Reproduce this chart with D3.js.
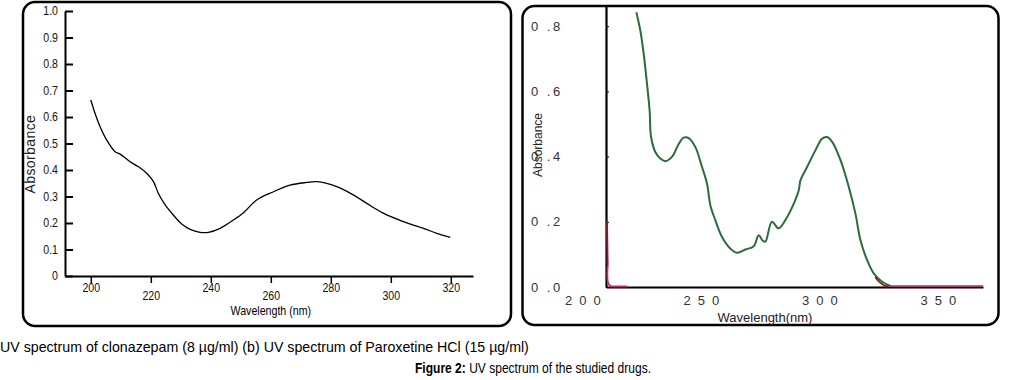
<!DOCTYPE html>
<html>
<head>
<meta charset="utf-8">
<script src="https://cdn.jsdelivr.net/npm/d3@7"></script>
<style>
  body { margin: 0; background: #fff; }
  svg { display: block; }
</style>
</head>
<body>
<div id="chart"></div>
<script>
// (a) clonazepam spectrum
const clonWavelength = [200, 201.4, 203.1, 205.3, 208.1, 209.8, 213.1, 215.9, 218.7, 220.9, 222.5, 224.8, 227.5, 230.3, 233.1, 236.4, 239.2, 243.1, 247.5, 251, 255.3, 260.9, 266.4, 272, 275.3, 282, 287.5, 292, 297.5, 304.2, 310.9, 315.3, 319.8];
const clonAbsorbance = [0.664, 0.614, 0.563, 0.513, 0.469, 0.46, 0.431, 0.412, 0.387, 0.356, 0.312, 0.268, 0.23, 0.196, 0.176, 0.165, 0.165, 0.18, 0.211, 0.24, 0.287, 0.318, 0.343, 0.353, 0.356, 0.337, 0.306, 0.274, 0.237, 0.205, 0.18, 0.161, 0.146];
const clonYTicks = [0, 0.1, 0.2, 0.3, 0.4, 0.5, 0.6, 0.7, 0.8, 0.9, 1.0];
const clonXTicks = [200, 220, 240, 260, 280, 300, 320];

// (b) paroxetine HCl spectrum
const paroxWavelength = [222.8, 224.5, 225.9, 227.3, 228.4, 229, 230.8, 232.9, 235, 237.8, 240.6, 242.7, 244.9, 247.7, 250.5, 252.6, 254, 256.1, 258.9, 262.4, 265.3, 268.8, 272.3, 274.4, 276.1, 277.2, 280, 282.8, 286.4, 289.2, 291.3, 292, 294.8, 298.3, 301.1, 303.2, 305.4, 308.9, 312.4, 315.2, 317.3, 320.1, 322.9, 326.5, 330];
const paroxAbsorbance = [0.843, 0.786, 0.715, 0.623, 0.541, 0.46, 0.414, 0.394, 0.386, 0.399, 0.438, 0.458, 0.457, 0.429, 0.368, 0.317, 0.251, 0.205, 0.154, 0.118, 0.105, 0.115, 0.125, 0.159, 0.142, 0.139, 0.2, 0.18, 0.215, 0.256, 0.297, 0.327, 0.368, 0.419, 0.455, 0.46, 0.445, 0.389, 0.307, 0.225, 0.144, 0.083, 0.042, 0.016, 0.003];
// other recorded traces hugging the axes
const redWavelength = [210.4, 210.5, 210.6, 210.7];
const redAbsorbance = [0.2, 0.15, 0.1, 0.065];
const redTailWavelength = [323.5, 325.5, 327.5, 329];
const redTailAbsorbance = [0.03, 0.014, 0.004, 0.001];
const blankStartWavelength = [210.7, 210.9, 212, 216, 219];
const blankStartAbsorbance = [0.065, 0.012, 0.003, 0.002, 0.002];
const blankEndWavelength = [327, 340, 355, 369];
const blankEndAbsorbance = [0.003, 0.003, 0.003, 0.003];
const paroxYTicks = [0, 0.2, 0.4, 0.6, 0.8];
const paroxXTicks = [200, 250, 300, 350];

const W = 1011, H = 380;
const svg = d3.select('#chart').append('svg')
    .attr('width', W)
    .attr('height', H);

const sans = "'Liberation Sans', Arial, sans-serif";

// panel frames
svg.append('rect')
    .attr('x', 23).attr('y', 2).attr('width', 488).attr('height', 324)
    .attr('rx', 12)
    .attr('fill', 'none').attr('stroke', '#000').attr('stroke-width', 2.5);
svg.append('rect')
    .attr('x', 522.5).attr('y', 6).attr('width', 476).attr('height', 319)
    .attr('rx', 12)
    .attr('fill', 'none').attr('stroke', '#000').attr('stroke-width', 2.5);

// ---------- (a) clonazepam ----------
const xA = d3.scaleLinear().domain([191.4, 327.4]).range([65, 473]);
const yA = d3.scaleLinear().domain([0, 1]).range([276, 11]);

const gA = svg.append('g');

const axA = gA.append('g')
    .attr('transform', `translate(${xA.range()[0]},0)`)
    .call(d3.axisLeft(yA).tickValues(clonYTicks).tickSizeInner(-8).tickSizeOuter(0).tickPadding(8)
        .tickFormat(d => d === 0 ? '0' : d3.format('.1f')(d)));
axA.select('.domain').attr('stroke-width', 2);
axA.selectAll('.tick line').attr('stroke-width', 2);
axA.selectAll('text')
    .style('font-family', sans).style('font-size', '12px').attr('fill', '#111')
    .attr('transform', 'scale(0.88,1)');

const axAx = gA.append('g')
    .attr('transform', `translate(0,${yA(0)})`)
    .call(d3.axisBottom(xA).tickValues(clonXTicks).tickSizeInner(7).tickSizeOuter(0)
        .tickFormat(d3.format('d')));
axAx.select('.domain').attr('stroke-width', 2);
axAx.selectAll('.tick line').attr('stroke-width', 1.5);
axAx.selectAll('text')
    .style('font-family', sans).style('font-size', '12px').attr('fill', '#111')
    .attr('transform', 'scale(0.88,1)')
    .attr('y', (d, i) => i % 2 ? 15 : 7);

gA.append('text')
    .attr('transform', `translate(${xA(260)},315) scale(0.85,1)`)
    .attr('text-anchor', 'middle')
    .style('font-family', sans).style('font-size', '12.5px')
    .text('Wavelength (nm)');

gA.append('text')
    .attr('transform', `translate(35,${yA(0.46)}) rotate(-90)`)
    .attr('text-anchor', 'middle')
    .style('font-family', sans).style('font-size', '14px').style('letter-spacing', '0.4px')
    .attr('fill', '#222')
    .text('Absorbance');

const lineA = d3.line()
    .x(i => xA(clonWavelength[i]))
    .y(i => yA(clonAbsorbance[i]))
    .curve(d3.curveCatmullRom);

gA.append('path')
    .attr('d', lineA(d3.range(clonWavelength.length)))
    .attr('fill', 'none').attr('stroke', '#000').attr('stroke-width', 1.3);

// ---------- (b) paroxetine HCl ----------
const xB = d3.scaleLinear().domain([210, 369]).range([606, 983]);
const yB = d3.scaleLinear().domain([0, 0.865]).range([287, 5]);

const gB = svg.append('g');

const lineB = (xs, ys) => d3.line()
    .x(i => xB(xs[i]))
    .y(i => yB(ys[i]))
    .curve(d3.curveCatmullRom)(d3.range(xs.length));

const axB = gB.append('g')
    .attr('transform', `translate(${xB.range()[0]},0)`)
    .call(d3.axisLeft(yB).tickValues(paroxYTicks).tickSizeInner(-3).tickSizeOuter(0)
        .tickFormat(d => d3.format('.1f')(d).replace('.', ' .')));
axB.select('.domain').attr('stroke-width', 2.2);
axB.selectAll('text')
    .attr('x', 531 - 606).attr('text-anchor', 'start')
    .style('font-family', sans).style('font-size', '13px').style('letter-spacing', '2.5px')
    .attr('fill', '#333');

const axBx = gB.append('g')
    .attr('transform', `translate(0,${yB(0)})`)
    .call(d3.axisBottom(xB).tickValues(paroxXTicks).tickSize(0).tickPadding(9)
        .tickFormat(d3.format('d')));
axBx.select('.domain').attr('stroke-width', 2.2);
axBx.selectAll('text')
    .style('font-family', sans).style('font-size', '13px').style('letter-spacing', '7px')
    .attr('dx', '3.5px')
    .attr('fill', '#333');

gB.append('path')
    .attr('d', lineB(blankStartWavelength, blankStartAbsorbance))
    .attr('fill', 'none').attr('stroke', '#c4306e').attr('stroke-width', 1.8);
gB.append('path')
    .attr('d', lineB(blankEndWavelength, blankEndAbsorbance))
    .attr('fill', 'none').attr('stroke', '#b8286a').attr('stroke-width', 1.6);

gB.append('path')
    .attr('d', lineB(redWavelength, redAbsorbance))
    .attr('fill', 'none').attr('stroke', '#8e1b2c').attr('stroke-width', 2);

gB.append('path')
    .attr('d', lineB(paroxWavelength, paroxAbsorbance))
    .attr('fill', 'none').attr('stroke', '#2e6b3c').attr('stroke-width', 2);

gB.append('path')
    .attr('d', lineB(redTailWavelength, redTailAbsorbance))
    .attr('fill', 'none').attr('stroke', '#8e1b2c').attr('stroke-width', 1.8);

gB.append('text')
    .attr('x', 765).attr('y', 322)
    .attr('text-anchor', 'middle')
    .style('font-family', sans).style('font-size', '13px')
    .attr('fill', '#222')
    .text('Wavelength(nm)');

gB.append('text')
    .attr('transform', 'translate(542,145) rotate(-90)')
    .attr('text-anchor', 'middle')
    .style('font-family', sans).style('font-size', '12px')
    .attr('fill', '#222')
    .text('Absorbance');

// ---------- captions ----------
svg.append('text')
    .attr('x', 0).attr('y', 352)
    .style('font-family', sans).style('font-size', '14.2px')
    .text('UV spectrum of clonazepam (8 µg/ml) (b) UV spectrum of Paroxetine HCl (15 µg/ml)');

const cap = svg.append('text')
    .attr('transform', 'translate(415,373) scale(0.86,1)')
    .style('font-family', sans).style('font-size', '14px');
cap.append('tspan').style('font-weight', 'bold').text('Figure 2:');
cap.append('tspan').text(' UV spectrum of the studied drugs.');
</script>
</body>
</html>
